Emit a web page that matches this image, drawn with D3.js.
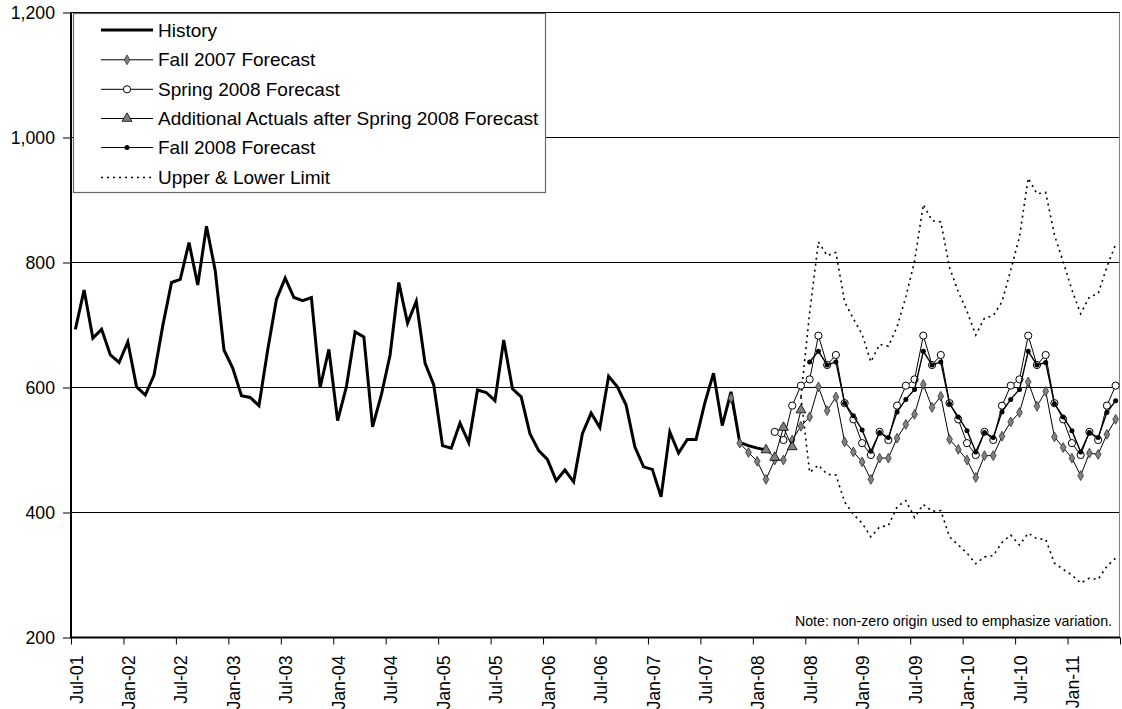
<!DOCTYPE html>
<html>
<head>
<meta charset="utf-8">
<script src="https://cdn.jsdelivr.net/npm/d3@7"></script>
<style>
  html, body { margin: 0; padding: 0; background: #fff; }
  svg { display: block; font-family: "Liberation Sans", Arial, sans-serif; }
</style>
</head>
<body>
<svg id="chart" width="1122" height="709"></svg>
<script>
// ---------------- DATA ----------------
// Monthly categories Jul-01 .. Jun-11 (120 months)
const categories = d3.timeMonths(new Date(2001, 6, 1), new Date(2011, 6, 1)).map(d3.timeFormat("%b-%y"));
const yTicks = [200, 400, 600, 800, 1000, 1200];

// History: Jul-01 .. Feb-08
const historyStart = 0;
const history = [693, 756, 679, 693, 652, 640, 673, 601, 588, 620, 699, 768,
  773, 832, 764, 858, 787, 660, 631, 587, 584, 571, 660, 741,
  775, 744, 739, 744, 600, 661, 547, 601, 689, 681, 537, 588,
  652, 768, 703, 738, 639, 604, 507, 503, 543, 512, 596, 592,
  579, 676, 598, 585, 526, 499, 485, 451, 468, 449, 526, 559,
  536, 618, 601, 572, 505, 473, 469, 425, 529, 495, 517, 517,
  575, 623, 539, 593, 512, 507, 503, 500];

// Fall 2007 Forecast: Oct-07 .. Jun-11
const fall2007Start = 75;
const fall2007 = [583, 511, 496, 482, 453, 484, 484, 516, 538, 553, 601, 563,
  585, 513, 497, 481, 453, 487, 487, 519, 541, 557, 605, 568,
  586, 517, 501, 484, 456, 491, 491, 522, 545, 560, 609, 570,
  594, 521, 504, 487, 459, 495, 493, 525, 549];

// Spring 2008 Forecast: Mar-08 .. Jun-11
const spring2008Start = 80;
const spring2008 = [529, 516, 571, 603, 613, 683, 636, 652, 575, 549, 511, 492,
  529, 516, 571, 603, 613, 683, 636, 652, 575, 549, 511, 492,
  529, 516, 571, 603, 613, 683, 636, 652, 575, 549, 511, 492,
  529, 516, 571, 603];

// Additional Actuals after Spring 2008 Forecast: Feb-08 .. Jun-08
const actualsStart = 79;
const additionalActuals = [500, 488, 536, 505, 564];

// Fall 2008 Forecast: Jul-08 .. Jun-11
const fall2008Start = 84;
const fall2008 = [641, 658, 636, 641, 575, 555, 532, 498, 528, 520, 561, 581,
  597, 658, 636, 641, 574, 553, 531, 497, 528, 520, 561, 581,
  597, 658, 636, 640, 574, 553, 531, 497, 528, 520, 560, 579];

// Upper & Lower limits: Jun-08 .. Jun-11
const limitStart = 83;
const upperLimit = [585, 720, 833, 811, 816, 737, 710, 685, 641, 669, 666, 697,
  745, 802, 893, 867, 865, 792, 753, 722, 684, 711, 715, 737,
  788, 841, 935, 910, 912, 844, 801, 756, 718, 745, 750, 793, 829];
const lowerLimit = [585, 464, 476, 461, 460, 417, 397, 383, 361, 377, 379, 409,
  419, 392, 413, 402, 403, 361, 348, 335, 318, 329, 331, 352,
  364, 348, 367, 358, 357, 319, 309, 300, 287, 295, 293, 314, 327];

const legendLabels = ["History", "Fall 2007 Forecast", "Spring 2008 Forecast",
  "Additional Actuals after Spring 2008 Forecast", "Fall 2008 Forecast", "Upper & Lower Limit"];
const noteText = "Note: non-zero origin used to emphasize variation.";

// ---------------- CHART ----------------
const svg = d3.select("#chart");
const pLeft = 71, pRight = 1120, pTop = 12.5, pBottom = 637.5;

const x = d3.scaleBand().domain(categories).range([pLeft, pRight]).padding(0);
const xb = d3.scaleLinear().domain([0, categories.length]).range([pLeft, pRight]);
const y = d3.scaleLinear().domain([200, 1200]).range([pBottom, pTop]);
const cx = i => x(categories[i]) + x.bandwidth() / 2;

const toPts = (arr, start) => arr.map((v, k) => ({ i: start + k, v }));
const line = d3.line().x(d => cx(d.i)).y(d => y(d.v));

// gridlines
svg.append("g").selectAll("line").data(yTicks.filter(t => t > 200)).join("line")
  .attr("x1", pLeft).attr("x2", pRight)
  .attr("y1", d => y(d)).attr("y2", d => y(d))
  .attr("stroke", "#000").attr("stroke-width", 1);

// right border
svg.append("line").attr("x1", pRight - 0.5).attr("x2", pRight - 0.5)
  .attr("y1", pTop).attr("y2", pBottom).attr("stroke", "#808080").attr("stroke-width", 1);

// Y axis
const yAxis = svg.append("g").attr("transform", `translate(${pLeft},0)`)
  .call(d3.axisLeft(y).tickValues(yTicks).tickSize(8).tickPadding(8).tickFormat(d3.format(",")));
yAxis.select(".domain").remove();
yAxis.selectAll(".tick line").attr("stroke", "#000");
yAxis.selectAll(".tick text").attr("font-size", 17.7).attr("fill", "#000")
  .attr("font-family", "'Liberation Sans', Arial, sans-serif");

// X axis: tick marks at category boundaries every 6 months
const xTickAxis = svg.append("g").attr("transform", `translate(0,${pBottom})`)
  .call(d3.axisBottom(xb).tickValues(d3.range(0, categories.length + 1, 6)).tickSize(7).tickFormat(""));
xTickAxis.select(".domain").remove();
xTickAxis.selectAll(".tick line").attr("stroke", "#000");

// X axis labels at category centres
const xLabAxis = svg.append("g").attr("transform", `translate(0,${pBottom})`)
  .call(d3.axisBottom(x).tickValues(categories.filter((d, i) => i % 6 === 0)).tickSize(0).tickPadding(0));
xLabAxis.select(".domain").remove();
xLabAxis.selectAll(".tick text")
  .attr("font-size", 17.7).attr("fill", "#000")
  .attr("font-family", "'Liberation Sans', Arial, sans-serif")
  .attr("text-anchor", "end")
  .attr("transform", "translate(1,18) rotate(-90)")
  .attr("x", 0).attr("y", 0).attr("dy", "0.35em");

// axis lines
svg.append("line").attr("x1", pLeft).attr("x2", pLeft).attr("y1", pTop).attr("y2", pBottom + 1)
  .attr("stroke", "#000").attr("stroke-width", 2);
svg.append("line").attr("x1", pLeft - 1).attr("x2", pRight).attr("y1", pBottom).attr("y2", pBottom)
  .attr("stroke", "#000").attr("stroke-width", 2);

// Note
svg.append("text").attr("x", 1112).attr("y", 626).attr("text-anchor", "end")
  .attr("font-size", 14.2).attr("fill", "#000").text(noteText);

// ---- series ----
const gS = svg.append("g");
// limits
[upperLimit, lowerLimit].forEach(arr => {
  gS.append("path").datum(toPts(arr, limitStart)).attr("d", line)
    .attr("fill", "none").attr("stroke", "#000").attr("stroke-width", 1.6)
    .attr("stroke-dasharray", "2,4");
});
// history
gS.append("path").datum(toPts(history, historyStart)).attr("d", line)
  .attr("fill", "none").attr("stroke", "#000").attr("stroke-width", 3).attr("stroke-linejoin", "miter");

// marker drawers
const diamond = d3.symbol().type(d3.symbolDiamond).size(28);
const triangle = d3.symbol().type(d3.symbolTriangle).size(42);

function drawFall2007(g, pts) {
  g.append("path").datum(pts).attr("d", line).attr("fill", "none").attr("stroke", "#000").attr("stroke-width", 1);
  g.selectAll(".f07").data(pts).join("path").attr("class", "f07")
    .attr("transform", d => `translate(${cx(d.i)},${y(d.v)})`)
    .attr("d", diamond).attr("fill", "#808080").attr("stroke", "#333").attr("stroke-width", 0.8);
}
function drawSpring(g, pts) {
  g.append("path").datum(pts).attr("d", line).attr("fill", "none").attr("stroke", "#000").attr("stroke-width", 1);
  g.selectAll(".s08").data(pts).join("circle").attr("class", "s08")
    .attr("cx", d => cx(d.i)).attr("cy", d => y(d.v)).attr("r", 3.6)
    .attr("fill", "#fff").attr("stroke", "#000").attr("stroke-width", 1);
}
function drawActuals(g, pts) {
  g.append("path").datum(pts).attr("d", line).attr("fill", "none").attr("stroke", "#000").attr("stroke-width", 1);
  g.selectAll(".act").data(pts).join("path").attr("class", "act")
    .attr("transform", d => `translate(${cx(d.i)},${y(d.v)})`)
    .attr("d", triangle).attr("fill", "#808080").attr("stroke", "#000").attr("stroke-width", 0.8);
}
function drawFall2008(g, pts) {
  g.append("path").datum(pts).attr("d", line).attr("fill", "none").attr("stroke", "#000").attr("stroke-width", 1.4);
  g.selectAll(".f08").data(pts).join("circle").attr("class", "f08")
    .attr("cx", d => cx(d.i)).attr("cy", d => y(d.v)).attr("r", 2.5)
    .attr("fill", "#000");
}

drawFall2007(gS.append("g"), toPts(fall2007, fall2007Start));
drawSpring(gS.append("g"), toPts(spring2008, spring2008Start));
drawActuals(gS.append("g"), toPts(additionalActuals, actualsStart));
drawFall2008(gS.append("g"), toPts(fall2008, fall2008Start));

// ---- legend ----
const lg = svg.append("g");
const lgBox = lg.append("rect").attr("x", 73.5).attr("y", 13.5).attr("height", 179)
  .attr("fill", "#fff").attr("stroke", "#666").attr("stroke-width", 1.2);
const rowY = [30, 59.8, 89.3, 118.5, 147.5, 177.5];
const sx1 = 101, sx2 = 153, smid = 127, tx = 158;
let maxEnd = 0;
legendLabels.forEach((lab, k) => {
  const yy = rowY[k];
  const g = lg.append("g");
  const l = g.append("line").attr("x1", sx1).attr("x2", sx2).attr("y1", yy).attr("y2", yy).attr("stroke", "#000");
  if (k === 0) l.attr("stroke-width", 3);
  else if (k === 5) l.attr("stroke-width", 1.6).attr("stroke-dasharray", "2,4");
  else l.attr("stroke-width", 1);
  if (k === 1) g.append("path").attr("transform", `translate(${smid},${yy})`).attr("d", diamond)
    .attr("fill", "#808080").attr("stroke", "#333").attr("stroke-width", 0.8);
  if (k === 2) g.append("circle").attr("cx", smid).attr("cy", yy).attr("r", 3.6)
    .attr("fill", "#fff").attr("stroke", "#000");
  if (k === 3) g.append("path").attr("transform", `translate(${smid},${yy})`).attr("d", triangle)
    .attr("fill", "#808080").attr("stroke", "#000").attr("stroke-width", 0.8);
  if (k === 4) g.append("circle").attr("cx", smid).attr("cy", yy).attr("r", 2.5).attr("fill", "#000");
  const t = g.append("text").attr("x", tx).attr("y", yy).attr("dy", "0.35em")
    .attr("font-size", 19).attr("fill", "#000").text(lab);
  maxEnd = Math.max(maxEnd, tx + t.node().getComputedTextLength());
});
lgBox.attr("width", Math.round(maxEnd + 7 - 73.5));
</script>
</body>
</html>
